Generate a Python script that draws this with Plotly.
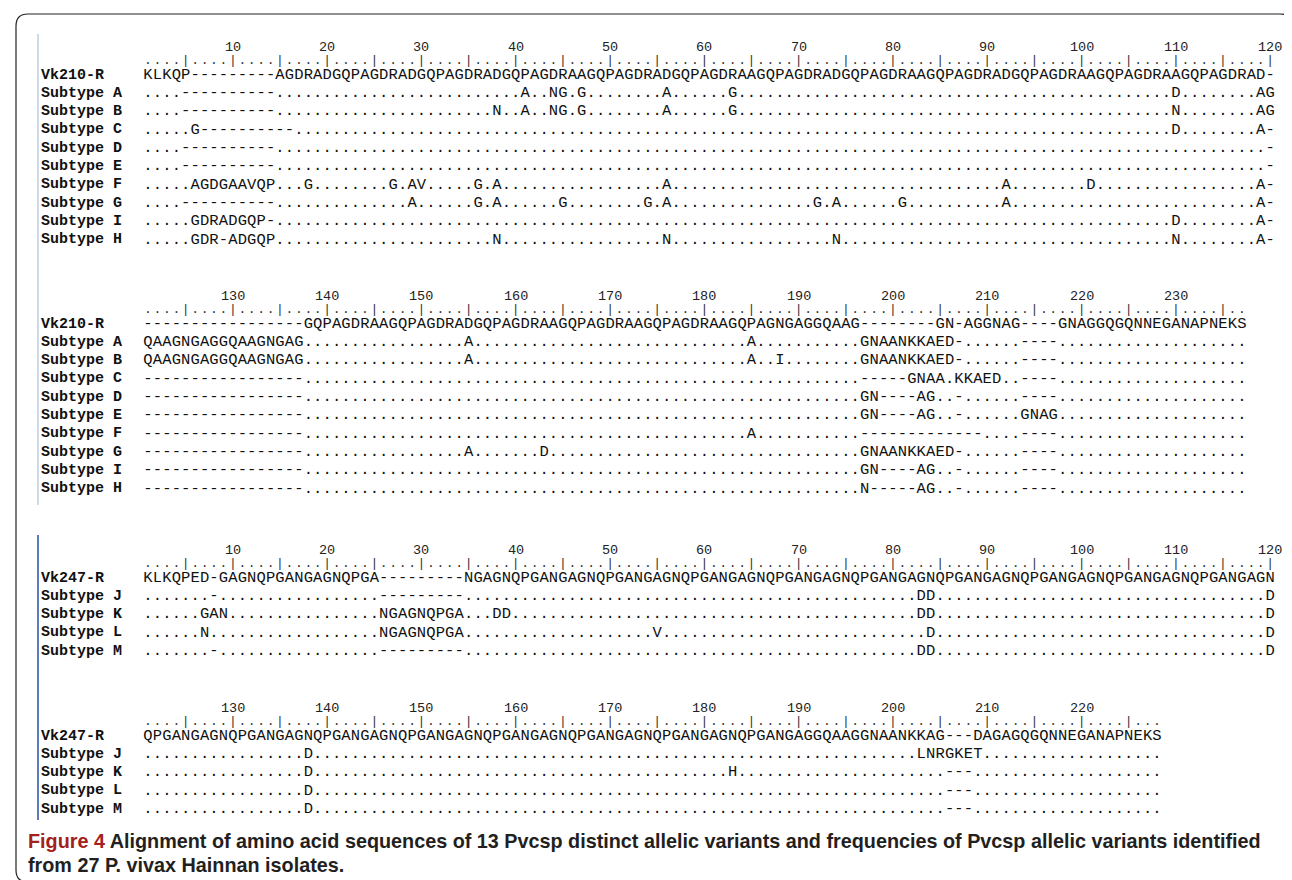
import plotly.graph_objects as go

# ------------------------------------------------------------------ data
B1_LABELS = ["Vk210-R", "Subtype A", "Subtype B", "Subtype C", "Subtype D",
             "Subtype E", "Subtype F", "Subtype G", "Subtype I", "Subtype H"]
B1_SEQS = [
    ("KLKQP-----" "----AGDRAD" "GQPAGDRADG" "QPAGDRADGQ" "PAGDRAAGQP" "AGDRADGQPA"
     "GDRAAGQPAG" "DRADGQPAGD" "RAAGQPAGDR" "ADGQPAGDRA" "AGQPAGDRAA" "GQPAGDRAD-"),
    ("....------" "----......" ".........." ".........." "A..NG.G..." ".....A...."
     "..G......." ".........." ".........." ".........." ".........D" "........AG"),
    ("....------" "----......" ".........." ".......N.." "A..NG.G..." ".....A...."
     "..G......." ".........." ".........." ".........." ".........N" "........AG"),
    (".....G----" "------...." ".........." ".........." ".........." ".........."
     ".........." ".........." ".........." ".........." ".........D" "........A-"),
    ("....------" "----......" ".........." ".........." ".........." ".........."
     ".........." ".........." ".........." ".........." ".........." ".........-"),
    ("....------" "----......" ".........." ".........." ".........." ".........."
     ".........." ".........." ".........." ".........." ".........." ".........-"),
    (".....AGDGA" "AVQP...G.." "......G.AV" ".....G.A.." ".........." ".....A...."
     ".........." ".........." ".........." ".A........" "D........." "........A-"),
    ("....------" "----......" "........A." ".....G.A.." "....G....." "...G.A...."
     ".........." ".G.A......" "G........." ".A........" ".........." "........A-"),
    (".....GDRAD" "GQP-......" ".........." ".........." ".........." ".........."
     ".........." ".........." ".........." ".........." ".........D" "........A-"),
    (".....GDR-A" "DGQP......" ".........." ".......N.." ".........." ".....N...."
     ".........." "...N......" ".........." ".........." ".........N" "........A-"),
]
B1_TICKS = [10, 20, 30, 40, 50, 60, 70, 80, 90, 100, 110, 120]

B2_LABELS = B1_LABELS
B2_SEQS = [
    ("----------" "-------GQP" "AGDRAAGQPA" "GDRADGQPAG" "DRAAGQPAGD" "RAAGQPAGDR"
     "AAGQPAGNGA" "GGQAAG----" "----GN-AGG" "NAG----GNA" "GGQGQNNEGA" "NAPNEKS"),
    ("QAAGNGAGGQ" "AAGNGAG..." ".........." "....A....." ".........." ".........."
     "....A....." "......GNAA" "NKKAED-..." "...----..." ".........." "......."),
    ("QAAGNGAGGQ" "AAGNGAG..." ".........." "....A....." ".........." ".........."
     "....A..I.." "......GNAA" "NKKAED-..." "...----..." ".........." "......."),
    ("----------" "-------..." ".........." ".........." ".........." ".........."
     ".........." "......----" "-GNAA.KKAE" "D..----..." ".........." "......."),
    ("----------" "-------..." ".........." ".........." ".........." ".........."
     ".........." "......GN--" "--AG..-..." "...----..." ".........." "......."),
    ("----------" "-------..." ".........." ".........." ".........." ".........."
     ".........." "......GN--" "--AG..-..." "...GNAG..." ".........." "......."),
    ("----------" "-------..." ".........." ".........." ".........." ".........."
     "....A....." "......----" "---------." "...----..." ".........." "......."),
    ("----------" "-------..." ".........." "....A....." "..D......." ".........."
     ".........." "......GNAA" "NKKAED-..." "...----..." ".........." "......."),
    ("----------" "-------..." ".........." ".........." ".........." ".........."
     ".........." "......GN--" "--AG..-..." "...----..." ".........." "......."),
    ("----------" "-------..." ".........." ".........." ".........." ".........."
     ".........." "......N---" "--AG..-..." "...----..." ".........." "......."),
]
B2_TICKS = [130, 140, 150, 160, 170, 180, 190, 200, 210, 220, 230]

B3_LABELS = ["Vk247-R", "Subtype J", "Subtype K", "Subtype L", "Subtype M"]
B3_SEQS = [
    ("KLKQPED-GA" "GNQPGANGAG" "NQPGA-----" "----NGAGNQ" "PGANGAGNQP" "GANGAGNQPG"
     "ANGAGNQPGA" "NGAGNQPGAN" "GAGNQPGANG" "AGNQPGANGA" "GNQPGANGAG" "NQPGANGAGN"),
    (".......-.." ".........." ".....-----" "----......" ".........." ".........."
     ".........." ".........." "..DD......" ".........." ".........." ".........D"),
    ("......GAN." ".........." ".....NGAGN" "QPGA...DD." ".........." ".........."
     ".........." ".........." "..DD......" ".........." ".........." ".........D"),
    ("......N..." ".........." ".....NGAGN" "QPGA......" ".........." "....V....."
     ".........." ".........." "...D......" ".........." ".........." ".........D"),
    (".......-.." ".........." ".....-----" "----......" ".........." ".........."
     ".........." ".........." "..DD......" ".........." ".........." ".........D"),
]
B3_TICKS = [10, 20, 30, 40, 50, 60, 70, 80, 90, 100, 110, 120]

B4_LABELS = B3_LABELS
B4_SEQS = [
    ("QPGANGAGNQ" "PGANGAGNQP" "GANGAGNQPG" "ANGAGNQPGA" "NGAGNQPGAN" "GAGNQPGANG"
     "AGNQPGANGA" "GGQAAGGNAA" "NKKAG---DA" "GAGQGQNNEG" "ANAPNEKS"),
    (".........." ".......D.." ".........." ".........." ".........." ".........."
     ".........." ".........." "..LNRGKET." ".........." "........"),
    (".........." ".......D.." ".........." ".........." ".........." ".........."
     "..H......." ".........." ".....---.." ".........." "........"),
    (".........." ".......D.." ".........." ".........." ".........." ".........."
     ".........." ".........." ".....---.." ".........." "........"),
    (".........." ".......D.." ".........." ".........." ".........." ".........."
     ".........." ".........." ".....---.." ".........." "........"),
]
B4_TICKS = [130, 140, 150, 160, 170, 180, 190, 200, 210, 220]

CAPTION_1_HEAD = "Figure 4"
CAPTION_1_TEXT = ("Alignment of amino acid sequences of 13 Pvcsp distinct allelic variants "
                  "and frequencies of Pvcsp allelic variants identified")
CAPTION_2_TEXT = "from 27 P. vivax Hainnan isolates."

# ------------------------------------------------------------------ layout constants
W, H = 1292, 880
COL_W = 9.43          # pixel width of one alignment column
X_COL1 = 140.0        # pixel centre of column 1
ROW_H = 18.3
MONO = "Liberation Mono, Courier New, monospace"
SANS = "Liberation Sans, Arial, sans-serif"


def cx(px):
    return 1 + (px - X_COL1) / COL_W


blocks = [
    dict(labels=B1_LABELS, seqs=B1_SEQS, start=1, end=120, ticks=B1_TICKS, y0=67),
    dict(labels=B2_LABELS, seqs=B2_SEQS, start=121, end=237, ticks=B2_TICKS, y0=316),
    dict(labels=B3_LABELS, seqs=B3_SEQS, start=1, end=120, ticks=B3_TICKS, y0=570),
    dict(labels=B4_LABELS, seqs=B4_SEQS, start=121, end=228, ticks=B4_TICKS, y0=728),
]

fig = go.Figure()
annotations = []
shapes = []

for b in blocks:
    y0 = b["y0"]
    # ruler marks
    rx, ry, rt = [], [], []
    for pos in range(b["start"], b["end"] + 1):
        rx.append(pos - b["start"] + 1)
        ry.append(y0 - 14)
        rt.append("|" if pos % 5 == 0 else ".")
    fig.add_trace(go.Scatter(x=rx, y=ry, text=rt, mode="text", textposition="middle center",
                             textfont=dict(family=MONO, size=13, color="#333333"),
                             hoverinfo="skip", showlegend=False))
    for t in b["ticks"]:
        annotations.append(dict(x=t - b["start"] + 1, y=y0 - 28, xref="x", yref="y",
                                text=str(t), showarrow=False, xanchor="center",
                                yanchor="middle",
                                font=dict(family=MONO, size=13.5, color="#222222")))
    # sequence rows
    sx, sy, st = [], [], []
    for i, (lab, seq) in enumerate(zip(b["labels"], b["seqs"])):
        yy = y0 + i * ROW_H
        annotations.append(dict(x=cx(31), y=yy, xref="x", yref="y", text="<b>%s</b>" % lab,
                                showarrow=False, xanchor="left", yanchor="middle",
                                font=dict(family=MONO, size=15, color="#111111")))
        for j, ch in enumerate(seq):
            sx.append(j + 1)
            sy.append(yy)
            st.append(ch)
    fig.add_trace(go.Scatter(x=sx, y=sy, text=st, mode="text", textposition="middle center",
                             textfont=dict(family=MONO, size=15.5, color="#111111"),
                             hoverinfo="skip", showlegend=False))

# vertical guide lines
shapes.append(dict(type="line", xref="x", yref="y", x0=cx(30), x1=cx(30), y0=26, y1=497,
                   line=dict(color="#9fb2cc", width=1)))
shapes.append(dict(type="line", xref="x", yref="y", x0=cx(30), x1=cx(30), y0=527, y1=812,
                   line=dict(color="#5b7bbd", width=2)))

# rounded border box
L, R, T, B, r = 8, 1284, 6, 874, 12
path = ("M {a},{t} L {b},{t} Q {R},{t} {R},{tr} L {R},{br} Q {R},{B} {b},{B} "
        "L {a},{B} Q {L},{B} {L},{br} L {L},{tr} Q {L},{t} {a},{t} Z").format(
    a=cx(L + r), b=cx(R - r), t=T, R=cx(R), L=cx(L), tr=T + r, br=B - r, B=B)
shapes.append(dict(type="path", xref="x", yref="y", path=path,
                   line=dict(color="#222222", width=1.2)))

# caption
annotations.append(dict(x=18 / W, y=1 - 833 / H, xref="paper", yref="paper",
                        text="<b><span style='color:#a3201c'>%s</span> %s</b>" % (CAPTION_1_HEAD, CAPTION_1_TEXT),
                        showarrow=False, xanchor="left", yanchor="middle",
                        font=dict(family=SANS, size=19.8, color="#231f20")))
annotations.append(dict(x=18 / W, y=1 - 857 / H, xref="paper", yref="paper",
                        text="<b>%s</b>" % CAPTION_2_TEXT,
                        showarrow=False, xanchor="left", yanchor="middle",
                        font=dict(family=SANS, size=19.8, color="#231f20")))

fig.update_layout(
    width=W, height=H, margin=dict(l=0, r=0, t=0, b=0),
    paper_bgcolor="white", plot_bgcolor="white",
    xaxis=dict(range=[cx(0), cx(W)], visible=False, fixedrange=True),
    yaxis=dict(range=[H, 0], visible=False, fixedrange=True),
    annotations=annotations, shapes=shapes, hovermode=False,
)

fig.write_html("out.html", config={"displayModeBar": False})
